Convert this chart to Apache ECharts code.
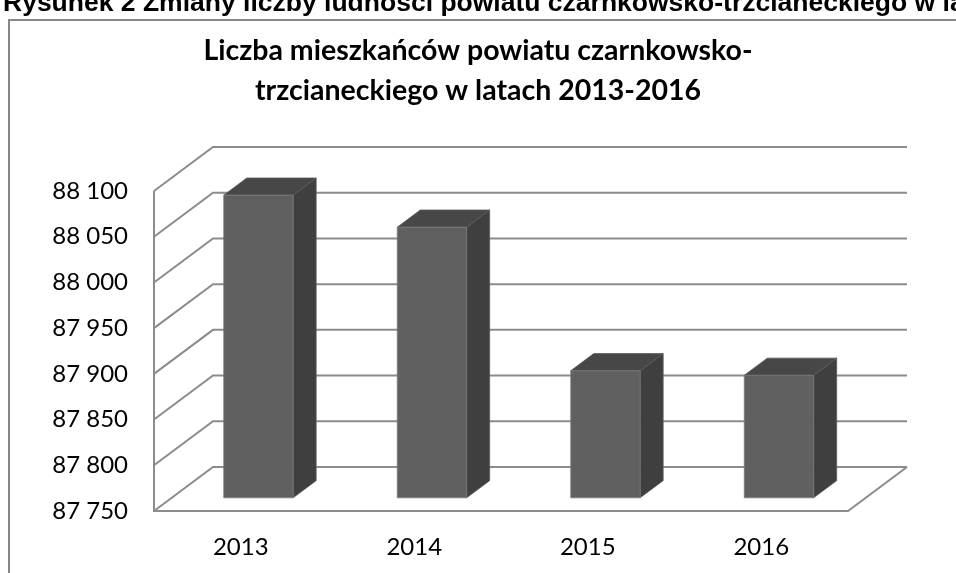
<!DOCTYPE html>
<html>
<head>
	<meta charset="utf-8">
	<script src="https://cdn.jsdelivr.net/npm/echarts@6/dist/echarts.min.js"></script>
</head>
<body style="margin:0">
	<div id="main" style="width: 956px; height: 573px"></div>
	<script type="text/javascript">
		// dane
		var years = ['2013', '2014', '2015', '2016'];
		var population = [88081, 88046, 87889, 87884];
		var yTicks = [87750, 87800, 87850, 87900, 87950, 88000, 88050, 88100];

		var yMin = 87750, yMax = 88100;
		// przesunięcie głębokości (efekt 3D)
		var DX = 59, DY = -44;
		var lineColor = '#8c8c8c';

		var myChart = echarts.init(document.getElementById('main'));

		function fmt(v) {
			var s = String(v);
			return s.slice(0, s.length - 3) + ' ' + s.slice(s.length - 3);
		}

		// ściany i linie siatki
		function renderGrid(params, api) {
			var cs = params.coordSys;
			var y = api.coord([0, api.value(0)])[1];
			var x0 = cs.x, x1 = cs.x + cs.width;
			var children = [{
				type: 'polyline',
				shape: { points: [[x0, y], [x0 + DX, y + DY], [x1 + DX, y + DY]] },
				style: { stroke: lineColor, lineWidth: 2, fill: null }
			}];
			if (params.dataIndex === 0) {
				var yTop = api.coord([0, yMax])[1];
				children.push({
					type: 'polyline',
					shape: { points: [[x0, yTop], [x0, y], [x1, y], [x1 + DX, y + DY]] },
					style: { stroke: lineColor, lineWidth: 2, fill: null }
				});
			}
			return { type: 'group', children: children };
		}

		// słupki 3D
		function renderBar(params, api) {
			var c = api.value(0), v = api.value(1);
			var base = api.coord([c, yMin]);
			var top = api.coord([c, v]);
			var slot = api.size([1, 0])[0];
			var w = slot * 0.4;
			var ox = DX * 0.3, oy = DY * 0.3;
			var bx = DX * 0.39, by = DY * 0.39;
			var l = base[0] - w / 2 + ox, r = l + w;
			var t = top[1] + oy, b = base[1] + oy;
			return {
				type: 'group',
				children: [{
					type: 'polygon',
					shape: { points: [[r, t], [r + bx, t + by], [r + bx, b + by], [r, b]] },
					style: { fill: '#3f3f3f', stroke: '#5a5a5a', lineWidth: 0.8 }
				}, {
					type: 'polygon',
					shape: { points: [[l, t], [l + bx, t + by], [r + bx, t + by], [r, t]] },
					style: { fill: '#474747', stroke: '#5a5a5a', lineWidth: 0.8 }
				}, {
					type: 'rect',
					shape: { x: l, y: t, width: w, height: b - t },
					style: { fill: '#606060', stroke: '#7a7a7a', lineWidth: 0.8 }
				}]
			};
		}

		var option = {
			backgroundColor: '#ffffff',
			animation: false,
			title: {
				text: 'Liczba mieszkańców powiatu czarnkowsko-\ntrzcianeckiego w latach 2013-2016',
				left: 'center', top: 26,
				textStyle: { fontFamily: 'Lato', fontWeight: 'bold', fontSize: 28.5, lineHeight: 40, color: '#000' }
			},
			graphic: [{
				type: 'rect',
				shape: { x: 9, y: 20, width: 1000, height: 600 },
				style: { fill: null, stroke: '#878787', lineWidth: 2 }
			}, {
				type: 'text',
				x: 3, y: -10,
				style: {
					text: 'Rysunek 2 Zmiany liczby ludności powiatu czarnkowsko-trzcianeckiego w latach 2013-2016',
					font: 'bold 26.5px "Liberation Sans"', fill: '#000'
				}
			}],
			grid: { left: 154, right: 108, top: 191, bottom: 62 },
			xAxis: {
				type: 'category',
				data: years,
				axisLine: { show: false },
				axisTick: { show: false },
				axisLabel: { fontFamily: 'Lato', fontSize: 24, color: '#000', margin: 24 }
			},
			yAxis: {
				type: 'value',
				min: yMin, max: yMax, interval: 50,
				axisLine: { show: false },
				axisTick: { show: false },
				splitLine: { show: false },
				axisLabel: { fontFamily: 'Lato', fontSize: 24, color: '#000', margin: 26, formatter: fmt }
			},
			series: [{
				type: 'custom',
				name: 'siatka',
				renderItem: renderGrid,
				data: yTicks.map(function (v) { return [v]; }),
				encode: { y: 0 },
				silent: true,
				z: 1
			}, {
				type: 'custom',
				name: 'Liczba mieszkańców',
				renderItem: renderBar,
				data: population.map(function (v, i) { return [i, v]; }),
				encode: { x: 0, y: 1 },
				z: 2
			}]
		};
		myChart.setOption(option);
	</script>
</body>
</html>
